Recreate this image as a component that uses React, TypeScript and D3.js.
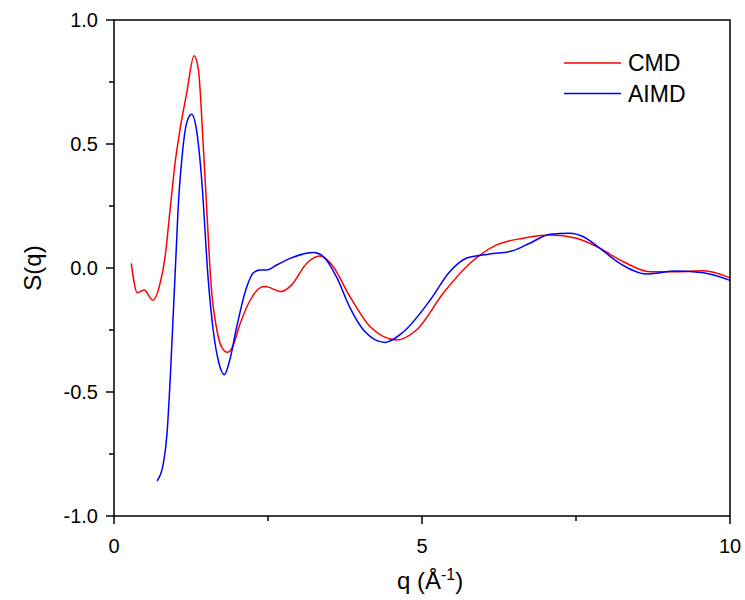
import React from "react";
import * as d3 from "d3";

const cmdQ = [0.28,0.38,0.49,0.63,0.75,0.83,0.91,0.99,1.07,1.18,1.30,1.37,1.45,1.52,1.57,1.67,1.75,1.84,1.92,2.05,2.21,2.37,2.45,2.72,2.88,3.13,3.34,3.53,3.83,4.16,4.59,4.91,5.35,5.78,6.21,6.64,7.08,7.51,7.89,8.27,8.70,9.13,9.57,10.0];
const cmdS = [0.019,-0.10,-0.089,-0.13,-0.06,0.046,0.234,0.42,0.556,0.705,0.856,0.80,0.49,0.17,-0.048,-0.25,-0.32,-0.34,-0.32,-0.223,-0.13,-0.08,-0.075,-0.095,-0.069,0.019,0.048,0.015,-0.115,-0.237,-0.29,-0.25,-0.10,0.019,0.093,0.12,0.133,0.12,0.079,0.025,-0.015,-0.015,-0.011,-0.04];

const aimdQ = [0.70,0.80,0.86,0.91,0.96,1.01,1.04,1.10,1.18,1.26,1.34,1.42,1.53,1.61,1.70,1.79,1.87,1.99,2.15,2.26,2.37,2.48,2.64,2.86,3.24,3.40,3.61,3.83,4.05,4.40,4.70,5.13,5.45,5.72,6.10,6.48,6.75,7.08,7.40,7.62,7.89,8.21,8.65,9.13,9.57,10.0];
const aimdS = [-0.859,-0.79,-0.67,-0.46,-0.196,0.073,0.234,0.435,0.585,0.62,0.556,0.368,-0.048,-0.25,-0.38,-0.43,-0.38,-0.24,-0.08,-0.02,-0.008,-0.008,0.012,0.039,0.062,0.046,-0.035,-0.16,-0.25,-0.30,-0.257,-0.13,-0.015,0.039,0.056,0.07,0.10,0.136,0.14,0.126,0.079,0.019,-0.024,-0.012,-0.019,-0.05];

const xMajor = [0, 5, 10];
const xMinor = [2.5, 7.5];
const yMajor = [-1.0, -0.5, 0.0, 0.5, 1.0];
const yMinor = [-0.75, -0.25, 0.25, 0.75];

const seriesNames = ["CMD", "AIMD"];
const seriesColors = ["#ff0000", "#0000ff"];

export default function App() {
  const L = 114, R = 730, T = 20, B = 516;
  const x = d3.scaleLinear().domain([0, 10]).range([L, R]);
  const y = d3.scaleLinear().domain([-1, 1]).range([B, T]);
  const line = d3
    .line<[number, number]>()
    .x((d) => x(d[0]))
    .y((d) => y(d[1]))
    .curve(d3.curveMonotoneX);
  const cmd = cmdQ.map((q, i) => [q, cmdS[i]] as [number, number]);
  const aimd = aimdQ.map((q, i) => [q, aimdS[i]] as [number, number]);
  const font = "Liberation Sans, Arial, sans-serif";
  return (
    <svg width={745} height={600} style={{ position: "absolute", left: 0, top: 0 }} fontFamily={font}>
      <rect width={745} height={600} fill="#fff" />
      <path d={line(cmd) || ""} fill="none" stroke={seriesColors[0]} strokeWidth={1.5} />
      <path d={line(aimd) || ""} fill="none" stroke={seriesColors[1]} strokeWidth={1.5} />
      <rect x={L} y={T} width={R - L} height={B - T} fill="none" stroke="#000" strokeWidth={1.5} />
      {xMajor.map((v) => (
        <g key={"xm" + v}>
          <line x1={x(v)} x2={x(v)} y1={B} y2={B + 8} stroke="#000" strokeWidth={1.5} />
          <text x={x(v)} y={B + 37} textAnchor="middle" fontSize={20}>{v}</text>
        </g>
      ))}
      {xMinor.map((v) => (
        <line key={"xn" + v} x1={x(v)} x2={x(v)} y1={B} y2={B + 5} stroke="#000" strokeWidth={1.5} />
      ))}
      {yMajor.map((v) => (
        <g key={"ym" + v}>
          <line x1={L - 8} x2={L} y1={y(v)} y2={y(v)} stroke="#000" strokeWidth={1.5} />
          <text x={L - 16} y={y(v) + 7} textAnchor="end" fontSize={20}>{v.toFixed(1)}</text>
        </g>
      ))}
      {yMinor.map((v) => (
        <line key={"yn" + v} x1={L - 5} x2={L} y1={y(v)} y2={y(v)} stroke="#000" strokeWidth={1.5} />
      ))}
      <text x={(L + R) / 2 + 8} y={589} textAnchor="middle" fontSize={24}>
        q (Å<tspan dy={-9} fontSize={16}>-1</tspan><tspan dy={9}>)</tspan>
      </text>
      <text transform={`translate(41,${(T + B) / 2}) rotate(-90)`} textAnchor="middle" fontSize={24}>S(q)</text>
      {seriesNames.map((n, i) => (
        <g key={n}>
          <line x1={564} x2={621} y1={63 + i * 30.5} y2={63 + i * 30.5} stroke={seriesColors[i]} strokeWidth={1.5} />
          <text x={628} y={63 + i * 30.5 + 8} fontSize={23}>{n}</text>
        </g>
      ))}
    </svg>
  );
}
